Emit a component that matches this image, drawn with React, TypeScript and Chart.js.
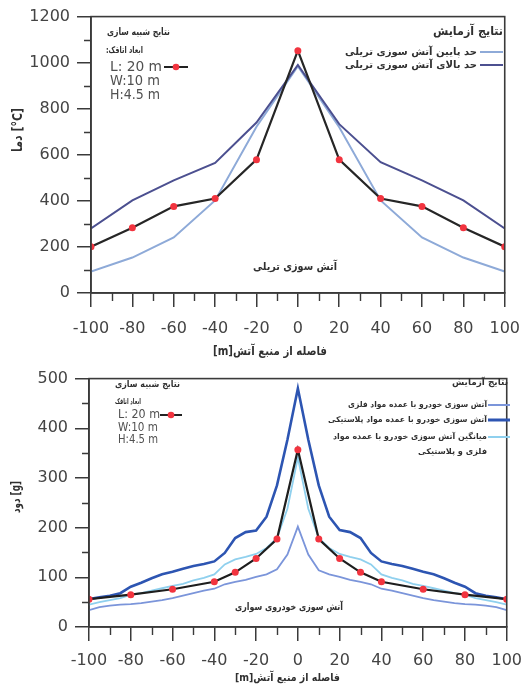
import React, { useEffect, useRef } from 'react';
import { Chart, registerables } from 'chart.js';

Chart.register(...registerables);

// ---------- Data: trailer fire (top chart) ----------
const TRAILER_X = [-100, -80, -60, -40, -20, 0, 20, 40, 60, 80, 100];
const TRAILER_SIM = [201, 283, 376, 410, 579, 1052, 579, 410, 376, 283, 201];
const TRAILER_UPPER = [280, 402, 489, 565, 740, 990, 733, 568, 489, 402, 280];
const TRAILER_LOWER = [93, 154, 241, 402, 722, 985, 720, 402, 241, 154, 93];

// ---------- Data: passenger car fire (bottom chart) ----------
const CAR_X = [
  -100, -95, -90, -85, -80, -75, -70, -65, -60, -55, -50, -45, -40, -35, -30, -25, -20, -15, -10, -5,
  0, 5, 10, 15, 20, 25, 30, 35, 40, 45, 50, 55, 60, 65, 70, 75, 80, 85, 90, 95, 100,
];
const CAR_PLASTIC = [
  56, 60, 63, 68, 81, 89, 98, 106, 111, 117, 123, 127, 132, 149, 179, 191, 194, 222, 285, 377,
  480, 377, 285, 222, 195, 191, 179, 149, 132, 127, 123, 117, 111, 106, 98, 89, 81, 68, 63, 60, 56,
];
const CAR_METAL = [
  34, 40, 43, 45, 46, 48, 51, 54, 58, 63, 68, 73, 77, 86, 91, 95, 101, 106, 116, 146,
  202, 146, 114, 106, 101, 95, 91, 86, 77, 73, 68, 63, 58, 54, 51, 48, 46, 45, 43, 40, 34,
];
const CAR_AVG = [
  45, 50, 54, 58, 65, 68, 73, 78, 83, 87, 94, 99, 106, 126, 136, 141, 147, 159, 179, 238,
  341, 238, 179, 159, 147, 141, 136, 126, 106, 99, 94, 87, 83, 78, 73, 68, 65, 58, 54, 50, 45,
];
const CAR_SIM_X = [-100, -80, -60, -40, -30, -20, -10, 0, 10, 20, 30, 40, 60, 80, 100];
const CAR_SIM = [56, 65, 76, 91, 110, 138, 177, 357, 177, 138, 110, 91, 76, 65, 56];

// ---------- Ticks ----------
const X_MINOR = [-90, -70, -50, -30, -10, 10, 30, 50, 70, 90];
const TRAILER_Y_MINOR = [100, 300, 500, 700, 900, 1100];
const CAR_Y_MINOR = [50, 150, 250, 350, 450];

const RED = '#f2343f';
const AXIS = '#3a3a3a';
const TICK_TEXT = '#444444';
const FA = '"DejaVu Sans", sans-serif';

const zip = (xs: number[], ys: number[]) => xs.map((x, i) => ({ x, y: ys[i] }));

type TextItem = {
  text: string;
  x1?: number;
  x2?: number;
  y?: number;
  font: string;
  color?: string;
  rtl?: boolean;
  rotate?: boolean;
  cx?: number;
  cy?: number;
  len?: number;
};
type Sample = { x1: number; x2: number; y: number; color: string; width: number; dot?: string };

const overlayPlugin = {
  id: 'overlay',
  afterDraw(chart: any, _args: any, opts: any) {
    const { ctx, chartArea: a, scales } = chart;
    const xs = scales.x;
    const ys = scales.y;
    ctx.save();
    // frame
    ctx.strokeStyle = AXIS;
    ctx.lineWidth = 1.6;
    ctx.strokeRect(a.left, a.top, a.right - a.left, a.bottom - a.top);
    // minor ticks
    ctx.lineWidth = 1.4;
    ctx.beginPath();
    (opts.xMinor || []).forEach((v: number) => {
      const px = Math.round(xs.getPixelForValue(v)) + 0.5;
      ctx.moveTo(px, a.bottom);
      ctx.lineTo(px, a.bottom + 8);
    });
    (opts.yMinor || []).forEach((v: number) => {
      const py = Math.round(ys.getPixelForValue(v)) + 0.5;
      ctx.moveTo(a.left, py);
      ctx.lineTo(a.left - 7, py);
    });
    ctx.stroke();
    // legend samples
    (opts.samples || []).forEach((s: Sample) => {
      ctx.strokeStyle = s.color;
      ctx.lineWidth = s.width;
      ctx.beginPath();
      ctx.moveTo(s.x1, s.y);
      ctx.lineTo(s.x2, s.y);
      ctx.stroke();
      if (s.dot) {
        ctx.fillStyle = s.dot;
        ctx.beginPath();
        ctx.arc((s.x1 + s.x2) / 2, s.y, 3.3, 0, Math.PI * 2);
        ctx.fill();
      }
    });
    // texts
    (opts.texts || []).forEach((t: TextItem) => {
      ctx.save();
      ctx.font = t.font;
      ctx.fillStyle = t.color || '#303030';
      ctx.textBaseline = 'middle';
      ctx.direction = t.rtl ? 'rtl' : 'ltr';
      ctx.textAlign = 'left';
      const w = ctx.measureText(t.text).width;
      if (t.rotate) {
        const sx = t.len ? Math.max(0.6, Math.min(1.6, t.len / w)) : 1;
        ctx.translate(t.cx, t.cy);
        ctx.rotate(-Math.PI / 2);
        ctx.scale(sx, 1);
        ctx.fillText(t.text, -w / 2, 0);
      } else {
        const sx = t.x2 !== undefined ? Math.max(0.6, Math.min(1.6, (t.x2 - (t.x1 as number)) / w)) : 1;
        ctx.translate(t.x1 as number, t.y as number);
        ctx.scale(sx, 1);
        ctx.fillText(t.text, 0, 0);
      }
      ctx.restore();
    });
    ctx.restore();
  },
};

function makeScales(opts: {
  yMax: number;
  yStep: number;
  yWidth: number;
  xHeight: number;
  xPad: number;
}) {
  const grid = {
    display: true,
    drawOnChartArea: false,
    drawTicks: true,
    tickLength: 14,
    color: AXIS,
    lineWidth: 1.5,
  };
  const tickFont = { family: FA, size: 16 };
  const plain = (v: any) => String(v);
  return {
    x: {
      type: 'linear' as const,
      min: -100,
      max: 100,
      ticks: {
        stepSize: 20,
        font: tickFont,
        color: TICK_TEXT,
        padding: opts.xPad,
        maxRotation: 0,
        autoSkip: false,
        callback: plain,
      },
      grid,
      border: { display: true, color: AXIS, width: 1.6 },
      afterFit: (s: any) => {
        s.height = opts.xHeight;
      },
    },
    y: {
      type: 'linear' as const,
      min: 0,
      max: opts.yMax,
      ticks: { stepSize: opts.yStep, font: tickFont, color: TICK_TEXT, padding: 7, callback: plain },
      grid,
      border: { display: true, color: AXIS, width: 1.6 },
      afterFit: (s: any) => {
        s.width = opts.yWidth;
      },
    },
  };
}

function TrailerChart() {
  const ref = useRef<HTMLCanvasElement | null>(null);
  useEffect(() => {
    if (!ref.current) return;
    const chart = new Chart(ref.current, {
      type: 'line',
      data: {
        datasets: [
          {
            label: 'شبیه سازی',
            data: zip(TRAILER_X, TRAILER_SIM),
            borderColor: '#262626',
            borderWidth: 2.2,
            pointRadius: 3.5,
            pointBackgroundColor: RED,
            pointBorderWidth: 0,
            tension: 0,
          },
          {
            label: 'حد بالای آتش سوزی تریلی',
            data: zip(TRAILER_X, TRAILER_UPPER),
            borderColor: '#4c5090',
            borderWidth: 2,
            pointRadius: 0,
            tension: 0,
          },
          {
            label: 'حد پایین آتش سوزی تریلی',
            data: zip(TRAILER_X, TRAILER_LOWER),
            borderColor: '#8eaad8',
            borderWidth: 2,
            pointRadius: 0,
            tension: 0,
          },
        ],
      },
      options: {
        responsive: false,
        animation: false,
        layout: { padding: { top: 15, right: 22, left: 0, bottom: 0 } },
        plugins: {
          legend: { display: false },
          tooltip: { enabled: false },
          overlay: {
            xMinor: X_MINOR,
            yMinor: TRAILER_Y_MINOR,
            samples: [
              { x1: 164, x2: 188, y: 67, color: '#222', width: 2, dot: RED },
              { x1: 480, x2: 503, y: 52, color: '#8eaad8', width: 2 },
              { x1: 480, x2: 503, y: 65, color: '#4c5090', width: 2 },
            ],
            texts: [
              { text: 'نتایج شبیه سازی', x1: 107, x2: 170, y: 32, font: `bold 10px ${FA}`, rtl: true },
              { text: 'ابعاد اتاقک:', x1: 106, x2: 143, y: 51, font: `bold 9px ${FA}`, rtl: true },
              { text: 'L: 20 m', x1: 110, x2: 162, y: 67, font: `14px ${FA}`, color: '#505050' },
              { text: 'W:10 m', x1: 110, x2: 160, y: 81, font: `14px ${FA}`, color: '#505050' },
              { text: 'H:4.5 m', x1: 110, x2: 160, y: 95, font: `14px ${FA}`, color: '#505050' },
              { text: 'نتایج آزمایش', x1: 433, x2: 503, y: 32, font: `bold 12px ${FA}`, rtl: true },
              { text: 'حد پایین آتش سوزی تریلی', x1: 345, x2: 477, y: 52, font: `bold 10px ${FA}`, rtl: true },
              { text: 'حد بالای آتش سوزی تریلی', x1: 345, x2: 477, y: 65, font: `bold 10px ${FA}`, rtl: true },
              { text: 'آتش سوزی تریلی', x1: 253, x2: 337, y: 267, font: `bold 11px ${FA}`, rtl: true },
              { text: 'فاصله از منبع آتش[m]', x1: 213, x2: 327, y: 352, font: `bold 12px ${FA}`, rtl: true },
              { text: 'دما [°C]', rotate: true, cx: 18, cy: 130, len: 44, font: `bold 14px ${FA}` },
            ],
          },
        } as any,
        scales: makeScales({ yMax: 1200, yStep: 200, yWidth: 91, xHeight: 69, xPad: 12 }) as any,
      },
      plugins: [overlayPlugin],
    });
    return () => chart.destroy();
  }, []);
  return <canvas ref={ref} width={532} height={362} style={{ display: 'block' }} />;
}

function CarChart() {
  const ref = useRef<HTMLCanvasElement | null>(null);
  useEffect(() => {
    if (!ref.current) return;
    const chart = new Chart(ref.current, {
      type: 'line',
      data: {
        datasets: [
          {
            label: 'شبیه سازی',
            data: zip(CAR_SIM_X, CAR_SIM),
            borderColor: '#1e1e1e',
            borderWidth: 2.2,
            pointRadius: 3.5,
            pointBackgroundColor: RED,
            pointBorderWidth: 0,
            tension: 0,
          },
          {
            label: 'میانگین آتش سوزی خودرو با عمده مواد فلزی و پلاستیکی',
            data: zip(CAR_X, CAR_AVG),
            borderColor: '#8fd0ee',
            borderWidth: 1.8,
            pointRadius: 0,
            tension: 0,
          },
          {
            label: 'آتش سوزی خودرو با عمده مواد فلزی',
            data: zip(CAR_X, CAR_METAL),
            borderColor: '#7b95da',
            borderWidth: 1.8,
            pointRadius: 0,
            tension: 0,
          },
          {
            label: 'آتش سوزی خودرو با عمده مواد پلاستیکی',
            data: zip(CAR_X, CAR_PLASTIC),
            borderColor: '#2d55b2',
            borderWidth: 2.6,
            pointRadius: 0,
            tension: 0,
          },
        ],
      },
      options: {
        responsive: false,
        animation: false,
        layout: { padding: { top: 12, right: 22, left: 0, bottom: 0 } },
        plugins: {
          legend: { display: false },
          tooltip: { enabled: false },
          overlay: {
            xMinor: X_MINOR,
            yMinor: CAR_Y_MINOR,
            samples: [
              { x1: 160, x2: 182, y: 53, color: '#222', width: 2, dot: RED },
              { x1: 488, x2: 510, y: 43, color: '#7b95da', width: 2 },
              { x1: 488, x2: 510, y: 58, color: '#2d55b2', width: 3 },
              { x1: 488, x2: 510, y: 75, color: '#8fd0ee', width: 2 },
            ],
            texts: [
              { text: 'نتایج شبیه سازی', x1: 115, x2: 180, y: 23, font: `bold 9px ${FA}`, rtl: true },
              { text: 'ابعاد اتاقک', x1: 115, x2: 141, y: 40, font: `bold 8px ${FA}`, rtl: true },
              { text: 'L: 20 m', x1: 118, x2: 160, y: 53, font: `13px ${FA}`, color: '#505050' },
              { text: 'W:10 m', x1: 118, x2: 158, y: 66, font: `13px ${FA}`, color: '#505050' },
              { text: 'H:4.5 m', x1: 118, x2: 158, y: 78, font: `13px ${FA}`, color: '#505050' },
              { text: 'نتایج آزمایش', x1: 452, x2: 508, y: 21, font: `bold 9px ${FA}`, rtl: true },
              { text: 'آتش سوزی خودرو با عمده مواد فلزی', x1: 348, x2: 487, y: 43, font: `bold 8px ${FA}`, rtl: true },
              { text: 'آتش سوزی خودرو با عمده مواد پلاستیکی', x1: 328, x2: 487, y: 58, font: `bold 8px ${FA}`, rtl: true },
              { text: 'میانگین آتش سوزی خودرو با عمده مواد', x1: 333, x2: 487, y: 75, font: `bold 8px ${FA}`, rtl: true },
              { text: 'فلزی و پلاستیکی', x1: 418, x2: 487, y: 90, font: `bold 8px ${FA}`, rtl: true },
              { text: 'آتش سوزی خودروی سواری', x1: 235, x2: 343, y: 245, font: `bold 10px ${FA}`, rtl: true },
              { text: 'فاصله از منبع آتش[m]', x1: 235, x2: 340, y: 316, font: `bold 11px ${FA}`, rtl: true },
              { text: 'دود [g]', rotate: true, cx: 17, cy: 135, len: 32, font: `bold 12px ${FA}` },
            ],
          },
        } as any,
        scales: makeScales({ yMax: 500, yStep: 100, yWidth: 89, xHeight: 59, xPad: 10 }) as any,
      },
      plugins: [overlayPlugin],
    });
    return () => chart.destroy();
  }, []);
  return <canvas ref={ref} width={532} height={324} style={{ display: 'block' }} />;
}

export default function App() {
  return (
    <div
      style={{
        position: 'absolute',
        top: 0,
        left: 0,
        width: 532,
        height: 686,
        background: '#ffffff',
        overflow: 'hidden',
      }}
    >
      <TrailerChart />
      <CarChart />
    </div>
  );
}
